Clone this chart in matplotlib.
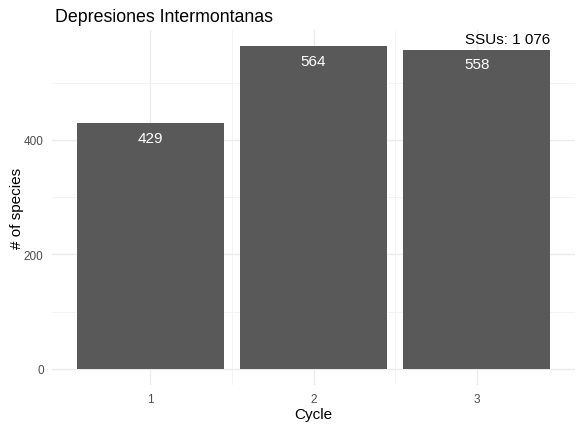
import matplotlib
matplotlib.use("Agg")
from matplotlib import pyplot as plt
from matplotlib.ticker import MultipleLocator

cycles = [1, 2, 3]
species = [429, 564, 558]
title = "Depresiones Intermontanas"
ssu_label = "SSUs: 1 076"

plt.rcParams['font.family'] = ['Liberation Sans', 'DejaVu Sans']

fig = plt.figure(figsize=(5.82, 4.31), dpi=100)
ax = fig.add_axes([52 / 582, 1 - 386 / 431, (575 - 52) / 582, (386 - 31) / 431])

ax.bar(cycles, species, width=0.9, color='#595959', zorder=3)
for c, s in zip(cycles, species):
    ax.annotate(str(s), xy=(c, s), xytext=(0, -10.5), textcoords='offset points',
                ha='center', va='center', color='white', fontsize=11, zorder=4)

ax.text(0.953, 0.975, ssu_label, transform=ax.transAxes, ha='right', va='center',
        fontsize=11, color='black')

ax.set_xlim(0.4, 3.6)
ax.set_ylim(-28.2, 592.2)
ax.set_xticks(cycles)
ax.yaxis.set_major_locator(MultipleLocator(200))
ax.set_xticks([1.5, 2.5], minor=True)
ax.set_yticks([100, 300, 500], minor=True)

ax.grid(True, which='major', color='#EBEBEB', linewidth=1.0, zorder=0)
ax.grid(True, which='minor', color='#F2F2F2', linewidth=0.6, zorder=0)
for sp in ax.spines.values():
    sp.set_visible(False)
ax.tick_params(which='both', length=0, colors='#4D4D4D', labelsize=8.5, pad=6)

ax.set_xlabel('Cycle', fontsize=11, labelpad=1)
ax.set_ylabel('# of species', fontsize=11, labelpad=0)
fig.text(55 / 582, 1 - 18 / 431, title, ha='left', va='center', fontsize=12.8)

fig.savefig('out.png', dpi=100)
